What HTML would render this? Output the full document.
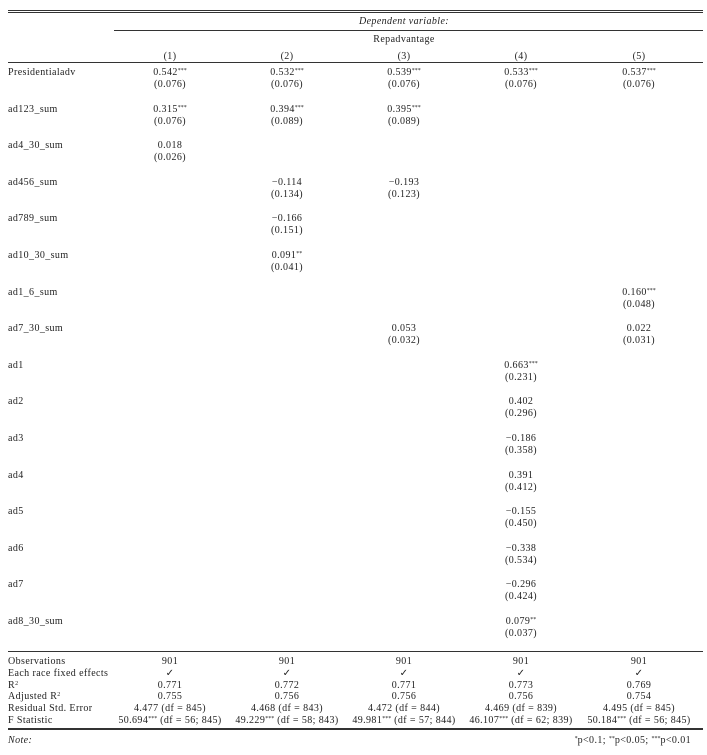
<!DOCTYPE html>
<html><head><meta charset="utf-8">
<style>
body{margin:0;background:#fff;width:707px;height:755px;position:relative;overflow:hidden;font-family:"Liberation Serif","DejaVu Serif",serif;font-size:10px;letter-spacing:0.4px;color:#222}
.t{position:absolute;white-space:nowrap;line-height:10px}
.c{transform:translateX(-50%)}
.r{transform:translateX(-100%)}
.ln{position:absolute;background:#333}
sup{font-size:6px;vertical-align:3px;line-height:0;letter-spacing:0}
</style></head><body>
<div class="ln" style="left:8px;top:10px;width:695px;height:1px"></div>
<div class="ln" style="left:8px;top:12px;width:695px;height:1px"></div>
<div class="t c" style="left:404px;top:17px;font-style:italic">Dependent variable:</div>
<div class="ln" style="left:114px;top:30px;width:589px;height:1px"></div>
<div class="t c" style="left:404px;top:35px">Repadvantage</div>
<div class="ln" style="left:8px;top:62px;width:695px;height:1px"></div>
<div class="ln" style="left:8px;top:651px;width:695px;height:1px"></div>
<div class="ln" style="left:8px;top:728px;width:695px;height:2px"></div>
<div class="t" style="left:8px;top:736px;font-style:italic">Note:</div>
<div class="t r" style="left:691px;top:736px"><sup>*</sup>p&lt;0.1; <sup>**</sup>p&lt;0.05; <sup>***</sup>p&lt;0.01</div>
<div id="tbl"></div>
<script>
const colX=[170,287,404,521,639];
const colHeads=["(1)","(2)","(3)","(4)","(5)"];
const varNames=["Presidentialadv","ad123_sum","ad4_30_sum","ad456_sum","ad789_sum","ad10_30_sum","ad1_6_sum","ad7_30_sum","ad1","ad2","ad3","ad4","ad5","ad6","ad7","ad8_30_sum"];
const coefs=[
["0.542|***","0.532|***","0.539|***","0.533|***","0.537|***"],
["0.315|***","0.394|***","0.395|***","",""],
["0.018","","","",""],
["","\u22120.114","\u22120.193","",""],
["","\u22120.166","","",""],
["","0.091|**","","",""],
["","","","","0.160|***"],
["","","0.053","","0.022"],
["","","","0.663|***",""],
["","","","0.402",""],
["","","","\u22120.186",""],
["","","","0.391",""],
["","","","\u22120.155",""],
["","","","\u22120.338",""],
["","","","\u22120.296",""],
["","","","0.079|**",""]];
const ses=[
["(0.076)","(0.076)","(0.076)","(0.076)","(0.076)"],
["(0.076)","(0.089)","(0.089)","",""],
["(0.026)","","","",""],
["","(0.134)","(0.123)","",""],
["","(0.151)","","",""],
["","(0.041)","","",""],
["","","","","(0.048)"],
["","","(0.032)","","(0.031)"],
["","","","(0.231)",""],
["","","","(0.296)",""],
["","","","(0.358)",""],
["","","","(0.412)",""],
["","","","(0.450)",""],
["","","","(0.534)",""],
["","","","(0.424)",""],
["","","","(0.037)",""]];
const statLabels=["Observations","Each race fixed effects","R<sup>2</sup>","Adjusted R<sup>2</sup>","Residual Std. Error","F Statistic"];
const statVals=[
["901","901","901","901","901"],
["\u2713","\u2713","\u2713","\u2713","\u2713"],
["0.771","0.772","0.771","0.773","0.769"],
["0.755","0.756","0.756","0.756","0.754"],
["4.477 (df = 845)","4.468 (df = 843)","4.472 (df = 844)","4.469 (df = 839)","4.495 (df = 845)"],
["50.694|*** (df = 56; 845)","49.229|*** (df = 58; 843)","49.981|*** (df = 57; 844)","46.107|*** (df = 62; 839)","50.184|*** (df = 56; 845)"]];
const tbl=document.getElementById('tbl');
function fmt(s){const p=s.split('|');if(p.length<2)return p[0];const m=p[1].match(/^(\*+)(.*)$/);return p[0]+'<sup>'+m[1]+'</sup>'+m[2];}
function put(html,x,y,cls){const d=document.createElement('div');d.className='t '+cls;d.style.left=x+'px';d.style.top=y+'px';d.innerHTML=html;tbl.appendChild(d);return d;}
colHeads.forEach((h,j)=>{const d=put(h,colX[j],52,'c');

});
varNames.forEach((v,i)=>{const y=68+i*36.6;
const l=put(v,8,y,'');


colX.forEach((x,j)=>{if(coefs[i][j]){const c=put(fmt(coefs[i][j]),x,y,'c');

}
if(ses[i][j]){const s=put(ses[i][j],x,y+12,'c');

}});});
statLabels.forEach((v,i)=>{const y=657+i*11.8;
const l=put(v,8,y,'');


colX.forEach((x,j)=>{const c=put(fmt(statVals[i][j]),x,y,'c');

});});
</script>
</body></html>
